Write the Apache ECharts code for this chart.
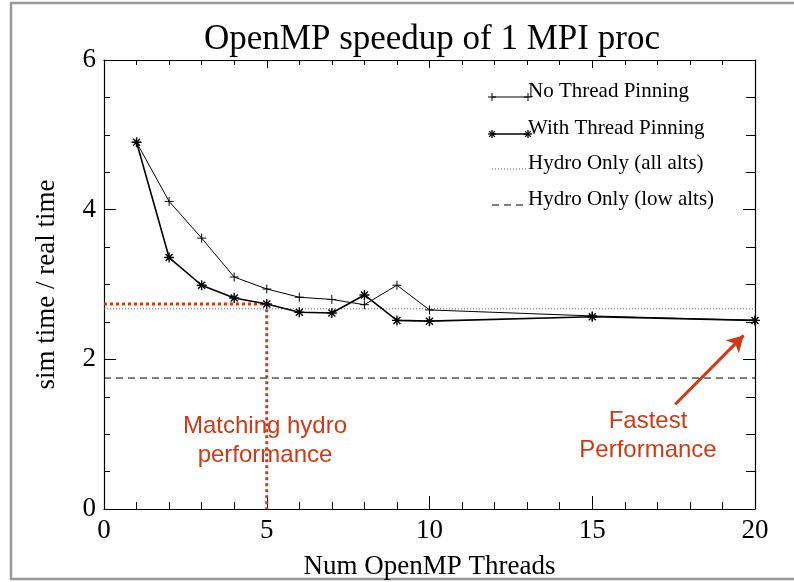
<!DOCTYPE html>
<html>
<head>
<meta charset="utf-8">
<script src="https://cdn.jsdelivr.net/npm/echarts@6/dist/echarts.min.js"></script>
<style>html,body{margin:0;padding:0;background:#fff;}#c{width:794px;height:582px;}</style>
</head>
<body>
<div id="c"></div>
<script>
// ---- data ----
const threads = [1, 2, 3, 4, 5, 6, 7, 8, 9, 10, 15, 20];
const noPinning = [4.90, 4.11, 3.62, 3.10, 2.94, 2.83, 2.80, 2.73, 2.99, 2.66, 2.58, 2.52];
const withPinning = [4.90, 3.36, 2.99, 2.82, 2.74, 2.63, 2.62, 2.86, 2.52, 2.51, 2.57, 2.52];
const hydroAllAlts = 2.675;
const hydroLowAlts = 1.75;
const matchPoint = [5, 2.74];
const arrowFrom = [17.55, 1.40];
const arrowTo = [19.65, 2.32];
const xTicks = [0, 5, 10, 15, 20];
const yTicks = [0, 2, 4, 6];
const legendNames = ['No Thread Pinning', 'With Thread Pinning', 'Hydro Only (all alts)', 'Hydro Only (low alts)'];

const serif = '"Liberation Serif", "Times New Roman", serif';
const sans = '"Liberation Sans", Arial, sans-serif';
const red = '#cf3a16';

const plusPath = 'path://M0,5L10,5M5,0L5,10';
const starPath = 'path://M0,5L10,5M5,0L5,10M1.5,1.5L8.5,8.5M8.5,1.5L1.5,8.5';

const pairs = (xs, ys) => xs.map((x, i) => [x, ys[i]]);

const chart = echarts.init(document.getElementById('c'), null, {renderer: 'canvas'});

const axisCommon = {
  type: 'value', min: 0, max: 20, interval: 5,
  axisLine: {show: true, onZero: false, lineStyle: {color: '#000', width: 1.2}},
  splitLine: {show: false}
};
const yCommon = {
  type: 'value', min: 0, max: 6, interval: 2,
  axisLine: {show: true, onZero: false, lineStyle: {color: '#000', width: 1.2}},
  splitLine: {show: false}
};

// legend graphics
const legendRows = [97, 134, 169, 205];
const lx0 = 492, lx1 = 528;
const legendGraphics = [];
function plusAt(x, y, s) {
  return [
    {type: 'line', shape: {x1: x - s, y1: y, x2: x + s, y2: y}, style: {stroke: '#000', lineWidth: 1}},
    {type: 'line', shape: {x1: x, y1: y - s, x2: x, y2: y + s}, style: {stroke: '#000', lineWidth: 1}}
  ];
}
function starAt(x, y, s) {
  const d = s * 0.72;
  return [
    {type: 'line', shape: {x1: x - s, y1: y, x2: x + s, y2: y}, style: {stroke: '#000', lineWidth: 1.3}},
    {type: 'line', shape: {x1: x, y1: y - s, x2: x, y2: y + s}, style: {stroke: '#000', lineWidth: 1.3}},
    {type: 'line', shape: {x1: x - d, y1: y - d, x2: x + d, y2: y + d}, style: {stroke: '#000', lineWidth: 1.3}},
    {type: 'line', shape: {x1: x + d, y1: y - d, x2: x - d, y2: y + d}, style: {stroke: '#000', lineWidth: 1.3}}
  ];
}
legendGraphics.push({type: 'line', shape: {x1: lx0, y1: legendRows[0], x2: lx1, y2: legendRows[0]}, style: {stroke: '#000', lineWidth: 1}});
legendGraphics.push(...plusAt(lx0, legendRows[0], 4), ...plusAt(lx1, legendRows[0], 4));
legendGraphics.push({type: 'line', shape: {x1: lx0, y1: legendRows[1], x2: lx1, y2: legendRows[1]}, style: {stroke: '#000', lineWidth: 1.4}});
legendGraphics.push(...starAt(lx0, legendRows[1], 4), ...starAt(lx1, legendRows[1], 4));
legendGraphics.push({type: 'line', shape: {x1: lx0, y1: legendRows[2], x2: lx1, y2: legendRows[2]}, style: {stroke: '#555', lineWidth: 1, lineDash: [1, 2]}});
legendGraphics.push({type: 'line', shape: {x1: lx0, y1: legendRows[3], x2: lx1, y2: legendRows[3]}, style: {stroke: '#000', lineWidth: 1, lineDash: [7, 5]}});
legendNames.forEach((n, i) => {
  legendGraphics.push({type: 'text', x: lx1, y: legendRows[i] - 6,
    style: {text: n, font: '21px ' + serif, fill: '#000', textAlign: 'left', textVerticalAlign: 'middle'}});
});

const option = {
  animation: false,
  backgroundColor: '#fff',
  title: {
    text: 'OpenMP speedup of 1 MPI proc',
    left: 199, top: 17,
    textStyle: {fontFamily: serif, fontSize: 35, fontWeight: 'normal', color: '#000'}
  },
  grid: {left: 104, right: 39, top: 60, bottom: 73, containLabel: false, outerBoundsMode: 'none'},
  xAxis: [
    Object.assign({}, axisCommon, {
      position: 'bottom',
      name: 'Num OpenMP Threads', nameLocation: 'middle', nameGap: 44,
      nameTextStyle: {fontFamily: serif, fontSize: 27, color: '#000'},
      axisTick: {show: true, inside: true, length: 13, lineStyle: {color: '#000', width: 1}},
      minorTick: {show: true, splitNumber: 5, length: 7, lineStyle: {color: '#000', width: 1}},
      axisLabel: {show: true, fontFamily: serif, fontSize: 27, color: '#000', margin: 8,
        customValues: xTicks}
    }),
    Object.assign({}, axisCommon, {
      position: 'top',
      axisTick: {show: true, inside: true, length: 8, lineStyle: {color: '#000', width: 1}},
      minorTick: {show: true, splitNumber: 5, length: 5, lineStyle: {color: '#000', width: 1}},
      axisLabel: {show: false}
    })
  ],
  yAxis: [
    Object.assign({}, yCommon, {
      position: 'left',
      name: 'sim time / real time', nameLocation: 'middle', nameGap: 44, nameRotate: 90,
      nameTextStyle: {fontFamily: serif, fontSize: 27, color: '#000'},
      axisTick: {show: true, inside: true, length: 12, lineStyle: {color: '#000', width: 1}},
      minorTick: {show: true, splitNumber: 4, length: 6, lineStyle: {color: '#000', width: 1}},
      axisLabel: {show: true, fontFamily: serif, fontSize: 27, color: '#000', margin: 8,
        customValues: yTicks}
    }),
    Object.assign({}, yCommon, {
      position: 'right',
      axisTick: {show: true, inside: true, length: 12, lineStyle: {color: '#000', width: 1}},
      minorTick: {show: true, splitNumber: 4, length: 9, lineStyle: {color: '#000', width: 1}},
      axisLabel: {show: false}
    })
  ],
  series: [
    {
      name: legendNames[2], type: 'line', xAxisIndex: 0, yAxisIndex: 0,
      data: [[0, hydroAllAlts], [20, hydroAllAlts]], showSymbol: false, symbol: 'none',
      lineStyle: {color: '#666', width: 1, type: [1, 2]}, z: 2, silent: true
    },
    {
      name: legendNames[3], type: 'line', xAxisIndex: 0, yAxisIndex: 0,
      data: [[0, hydroLowAlts], [20, hydroLowAlts]], showSymbol: false, symbol: 'none',
      lineStyle: {color: '#000', width: 1, type: [7, 5]}, z: 2, silent: true
    },
    {
      name: 'match', type: 'line', xAxisIndex: 0, yAxisIndex: 0,
      data: [[0, matchPoint[1]], matchPoint, [matchPoint[0], 0]], showSymbol: false, symbol: 'none',
      lineStyle: {color: red, width: 3, type: [3, 3]}, z: 3, silent: true,
      markLine: {
        silent: true, symbol: ['none', 'arrow'], symbolSize: [14, 16],
        label: {show: false},
        lineStyle: {color: red, width: 3, type: 'solid'},
        data: [[{coord: arrowFrom}, {coord: arrowTo}]]
      }
    },
    {
      name: legendNames[0], type: 'line', xAxisIndex: 0, yAxisIndex: 0,
      data: pairs(threads, noPinning),
      symbol: plusPath, symbolSize: 9, showAllSymbol: true,
      itemStyle: {color: '#000', borderColor: '#000', borderWidth: 1},
      lineStyle: {color: '#000', width: 1}, z: 5
    },
    {
      name: legendNames[1], type: 'line', xAxisIndex: 0, yAxisIndex: 0,
      data: pairs(threads, withPinning),
      symbol: starPath, symbolSize: 10, showAllSymbol: true,
      itemStyle: {color: '#000', borderColor: '#000', borderWidth: 1.4},
      lineStyle: {color: '#000', width: 1.6}, z: 6
    }
  ],
  graphic: [
    {type: 'rect', shape: {x: 11, y: 3, width: 800, height: 576},
      style: {fill: 'none', stroke: '#999', lineWidth: 2.5}, silent: true, z: -1},
    {type: 'text', x: 265, y: 426,
      style: {text: 'Matching hydro', font: '24px ' + sans, fill: red, textAlign: 'center', textVerticalAlign: 'middle'}},
    {type: 'text', x: 265, y: 455,
      style: {text: 'performance', font: '24px ' + sans, fill: red, textAlign: 'center', textVerticalAlign: 'middle'}},
    {type: 'text', x: 648, y: 421,
      style: {text: 'Fastest', font: '24px ' + sans, fill: red, textAlign: 'center', textVerticalAlign: 'middle'}},
    {type: 'text', x: 648, y: 450,
      style: {text: 'Performance', font: '24px ' + sans, fill: red, textAlign: 'center', textVerticalAlign: 'middle'}},
    ...legendGraphics
  ]
};
chart.setOption(option);
</script>
</body>
</html>
